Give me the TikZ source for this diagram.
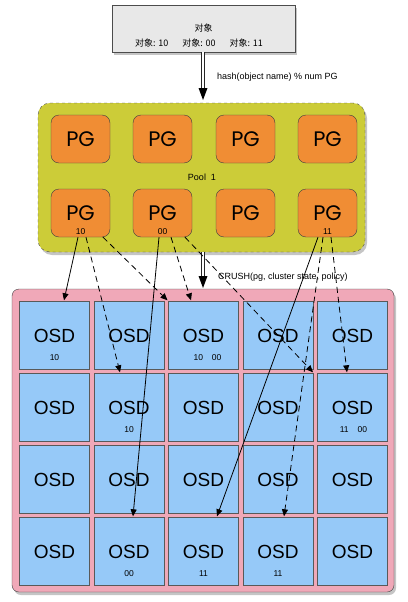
\documentclass[tikz,border=0pt]{standalone}
\usepackage{fontspec}
\setmainfont{Liberation Sans}
\newfontfamily\cjk{Noto Sans CJK SC}
\newfontfamily\pgfont{Poppins}
\usetikzlibrary{arrows.meta,shadows,calc}
\definecolor{pgorange}{RGB}{240,141,52}
\definecolor{poololive}{RGB}{204,204,56}
\definecolor{clpink}{RGB}{240,168,184}
\definecolor{osdblue}{RGB}{150,201,248}
\definecolor{objgray}{RGB}{232,232,232}
\begin{document}
\begin{tikzpicture}[x=1pt,y=-1pt,
  pgbox/.style={draw=black!75, fill=pgorange, rounded corners=8pt, minimum width=59pt, minimum height=48pt, inner sep=0pt, font=\pgfont\fontsize{21}{21}\selectfont},
  osd/.style={draw=black!65, fill=osdblue, minimum width=70pt, minimum height=68pt, inner sep=0pt, font=\fontsize{19}{19}\selectfont},
  lab/.style={font=\fontsize{8.5}{9}\selectfont, inner sep=0pt},
  txt/.style={font=\fontsize{9}{10}\selectfont, inner sep=0pt},
  link/.style={line width=0.8pt, -{Triangle[length=7pt,width=6pt]}},
  dlink/.style={link, dash pattern=on 6pt off 4pt},
  hollow/.style={draw=black!85, line width=0.7pt, double=white, double distance=1.8pt},
  shade/.style={drop shadow={shadow xshift=2pt, shadow yshift=-3pt, opacity=0.45}}
]
\useasboundingbox (0,0) rectangle (407,602);
\fill[white] (0,0) rectangle (407,602);

% object box
\node[draw=black!70, fill=objgray, shade, minimum width=183pt, minimum height=47pt, inner sep=0pt] (obj) at (203.5,28.5) {};
\node[txt, font=\cjk\fontsize{9}{10}\selectfont] (objt1) at (203.5,28) {对象};
\node[txt, font=\cjk\fontsize{9}{10}\selectfont] (objt2) at (199,43) {对象: 10\hspace{14pt}对象: 00\hspace{14pt}对象: 11};

% pool
\node[draw=black!70, dashed, fill=poololive, shade, rounded corners=12pt, minimum width=327pt, minimum height=149pt, inner sep=0pt] (pool) at (201.5,177.5) {};
\node[txt] (poollab) at (202,177) {Pool\ \ 1};

% hash arrow
\coordinate (tipA) at (203,100);
\draw[hollow] (obj.south -| tipA) -- ([yshift=11pt]tipA);
\fill[black] (tipA) -- ++(-4.5,-12) -- ++(9,0) -- cycle;
\node[txt, anchor=west] (hashlab) at (217,77) {hash(object name) \% num PG};

% PG boxes
\foreach \i/\x in {1/80.5,2/162.5,3/245.5,4/327.5}{
  \node[pgbox] (pga\i) at (\x,139) {PG};
  \node[pgbox] (pgb\i) at (\x,213) {PG};
}
\node[lab] (l10) at ([yshift=6pt]pgb1.south) {10};
\node[lab] (l00) at ([yshift=6pt]pgb2.south) {00};
\node[lab] (l11) at ([yshift=6pt]pgb4.south) {11};

% cluster
\node[draw=black!75, fill=clpink, shade, rounded corners=7pt, minimum width=382pt, minimum height=303pt, inner sep=0pt] (cl) at (203,440.5) {};

% OSD cells
\foreach \c/\x in {1/54.5,2/129,3/203.5,4/278,5/352.5}{
  \foreach \r/\y in {1/335.5,2/407.5,3/479.5,4/551.5}{
    \node[osd] (o\r\c) at (\x,\y) {OSD};
  }
}
\node[lab] (s11) at ([yshift=-22pt]o11.center) {10};
\node[lab] (s13) at ([xshift=4pt,yshift=-22pt]o13.center) {10\hspace{9pt}00};
\node[lab] (s22) at ([yshift=-22pt]o22.center) {10};
\node[lab] (s25) at ([xshift=1pt,yshift=-22pt]o25.center) {11\hspace{9pt}00};
\node[lab] (s42) at ([yshift=-22pt]o42.center) {00};
\node[lab] (s43) at ([yshift=-22pt]o43.center) {11};
\node[lab] (s44) at ([yshift=-22pt]o44.center) {11};

% CRUSH arrow
\coordinate (crushS) at (203,252);
\coordinate (tipB) at (203,288);
\draw[hollow] (crushS) -- ([yshift=11pt]tipB);
\fill[black] (tipB) -- ++(-4.5,-12) -- ++(9,0) -- cycle;
\node[txt, anchor=west] (crushlab) at (218,277) {CRUSH(pg, cluster state, policy)};

% mapping arrows
\draw[link]  ([xshift=-2.5pt]pgb1.south) -- ([xshift=9.5pt,yshift=1pt]o11.north);
\draw[dlink] ([xshift=5.5pt]pgb1.south) -- ([xshift=-9pt,yshift=1pt]o22.north);
\draw[dlink] ([xshift=22.5pt]pgb1.south) -- ([xshift=-36pt,yshift=1pt]o13.north);

\draw[link]  ([xshift=-3.5pt]pgb2.south) -- ([xshift=4pt,yshift=1pt]o42.north);
\draw[dlink] ([xshift=8.5pt]pgb2.south) -- ([xshift=-12.5pt,yshift=1pt]o13.north);
\draw[dlink] ([xshift=22.5pt]pgb2.south) -- ([xshift=-39.5pt,yshift=1pt]o25.north);

\draw[link]  ([xshift=-9.5pt]pgb4.south) -- ([xshift=13.5pt,yshift=1pt]o43.north);
\draw[dlink] ([xshift=-4.5pt]pgb4.south) -- ([xshift=6pt,yshift=1pt]o44.north);
\draw[dlink] ([xshift=3.5pt]pgb4.south) -- ([xshift=-5.5pt,yshift=1pt]o25.north);
\end{tikzpicture}
\end{document}
